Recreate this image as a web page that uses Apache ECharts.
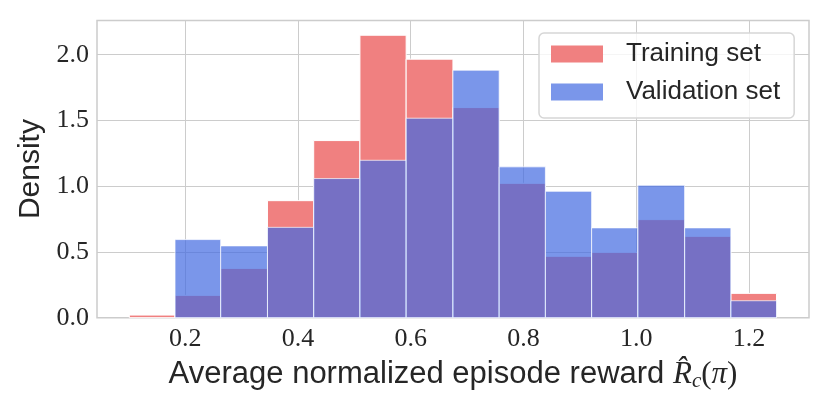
<!DOCTYPE html>
<html>
<head>
<meta charset="UTF-8">
<title>Reward histogram</title>
<script src="https://cdn.jsdelivr.net/npm/echarts@6/dist/echarts.min.js"></script>
<style>
  html, body { margin: 0; padding: 0; background: #fff; }
  #chart { width: 830px; height: 415px; }
</style>
</head>
<body>
<div id="chart"></div>
<script>
// bin edges (14 bins)
var binEdges = [0.101, 0.182, 0.263, 0.346, 0.428, 0.510, 0.592, 0.675, 0.757, 0.839, 0.921, 1.003, 1.086, 1.168, 1.249];
// density per bin
var trainDensity = [0.02, 0.17, 0.375, 0.89, 1.347, 2.148, 1.966, 1.598, 1.022, 0.467, 0.497, 0.746, 0.619, 0.185];
var valDensity   = [0.0, 0.594, 0.546, 0.687, 1.058, 1.197, 1.517, 1.882, 1.147, 0.961, 0.683, 1.007, 0.683, 0.129];
var xTicks = [0.2, 0.4, 0.6, 0.8, 1.0, 1.2];
var yTicks = [0.0, 0.5, 1.0, 1.5, 2.0];

var RED = '#f08080';
var BLUE = 'rgba(65,105,225,0.7)';
var TEXT = '#262626';
var SANS = '"Liberation Sans", Arial, Helvetica, sans-serif';
var SERIF = '"Liberation Serif", "DejaVu Serif", serif';

function histData(vals) {
  return vals.map(function (v, i) { return [binEdges[i], binEdges[i + 1], v]; });
}

function histRenderer(fill, stroke) {
  return function (params, api) {
    var h = api.value(2);
    if (!h) return null;
    var p0 = api.coord([api.value(0), h]);
    var p1 = api.coord([api.value(1), 0]);
    return {
      type: 'rect',
      shape: { x: p0[0], y: p0[1], width: p1[0] - p0[0], height: p1[1] - p0[1] },
      style: { fill: fill, stroke: stroke, lineWidth: 1 }
    };
  };
}

var chart = echarts.init(document.getElementById('chart'));
chart.setOption({
  animation: false,
  grid: {
    left: 97, right: 21, top: 20.5, bottom: 97.3,
    show: true, borderColor: '#cccccc', borderWidth: 1.5
  },
  legend: {
    orient: 'vertical',
    left: 539, top: 33,
    icon: 'rect',
    itemWidth: 52, itemHeight: 17, itemGap: 12,
    padding: [8, 14, 13, 12],
    backgroundColor: 'rgba(255,255,255,0.8)',
    borderColor: '#d6d6d6', borderWidth: 1.5, borderRadius: 5,
    textStyle: { fontFamily: SANS, fontSize: 26, color: TEXT, lineHeight: 26, padding: [0, 0, 0, 18] },
    data: ['Training set', 'Validation set']
  },
  xAxis: {
    type: 'value',
    min: 0.0436, max: 1.3066,
    axisLine: { show: false },
    axisTick: { show: false, customValues: xTicks },
    axisLabel: {
      customValues: xTicks,
      formatter: function (v) { return v.toFixed(1); },
      fontFamily: SERIF, fontSize: 26, color: TEXT, margin: 8
    },
    splitLine: { show: true, lineStyle: { color: '#cccccc', width: 1 } },
    name: '{t|Average normalized episode reward }{m|R\u0302}{s|c}{p|(}{m|\u03c0}{p|)}',
    nameLocation: 'middle',
    nameGap: 40,
    nameTextStyle: {
      color: TEXT,
      rich: {
        t: { fontFamily: SANS, fontSize: 31, color: TEXT, lineHeight: 34 },
        m: { fontFamily: SERIF, fontStyle: 'italic', fontSize: 31, color: TEXT, lineHeight: 34 },
        s: { fontFamily: SERIF, fontStyle: 'italic', fontSize: 21, color: TEXT, lineHeight: 34, verticalAlign: 'bottom' },
        p: { fontFamily: SERIF, fontSize: 31, color: TEXT, lineHeight: 34 }
      }
    }
  },
  yAxis: {
    type: 'value',
    min: 0, max: 2.26, interval: 0.5,
    axisLine: { show: false },
    axisTick: { show: false },
    axisLabel: {
      customValues: yTicks,
      formatter: function (v) { return v.toFixed(1); },
      fontFamily: SERIF, fontSize: 26, color: TEXT, margin: 8
    },
    splitLine: { show: true, lineStyle: { color: '#cccccc', width: 1 } },
    name: 'Density',
    nameLocation: 'middle',
    nameGap: 48,
    nameTextStyle: { fontFamily: SANS, fontSize: 30, color: TEXT }
  },
  series: [
    {
      name: 'Training set',
      type: 'custom',
      itemStyle: { color: RED },
      renderItem: histRenderer(RED, '#ffffff'),
      encode: { x: [0, 1], y: 2 },
      data: histData(trainDensity)
    },
    {
      name: 'Validation set',
      type: 'custom',
      itemStyle: { color: BLUE },
      renderItem: histRenderer(BLUE, 'rgba(255,255,255,0.7)'),
      encode: { x: [0, 1], y: 2 },
      data: histData(valDensity)
    }
  ]
});
</script>
</body>
</html>
